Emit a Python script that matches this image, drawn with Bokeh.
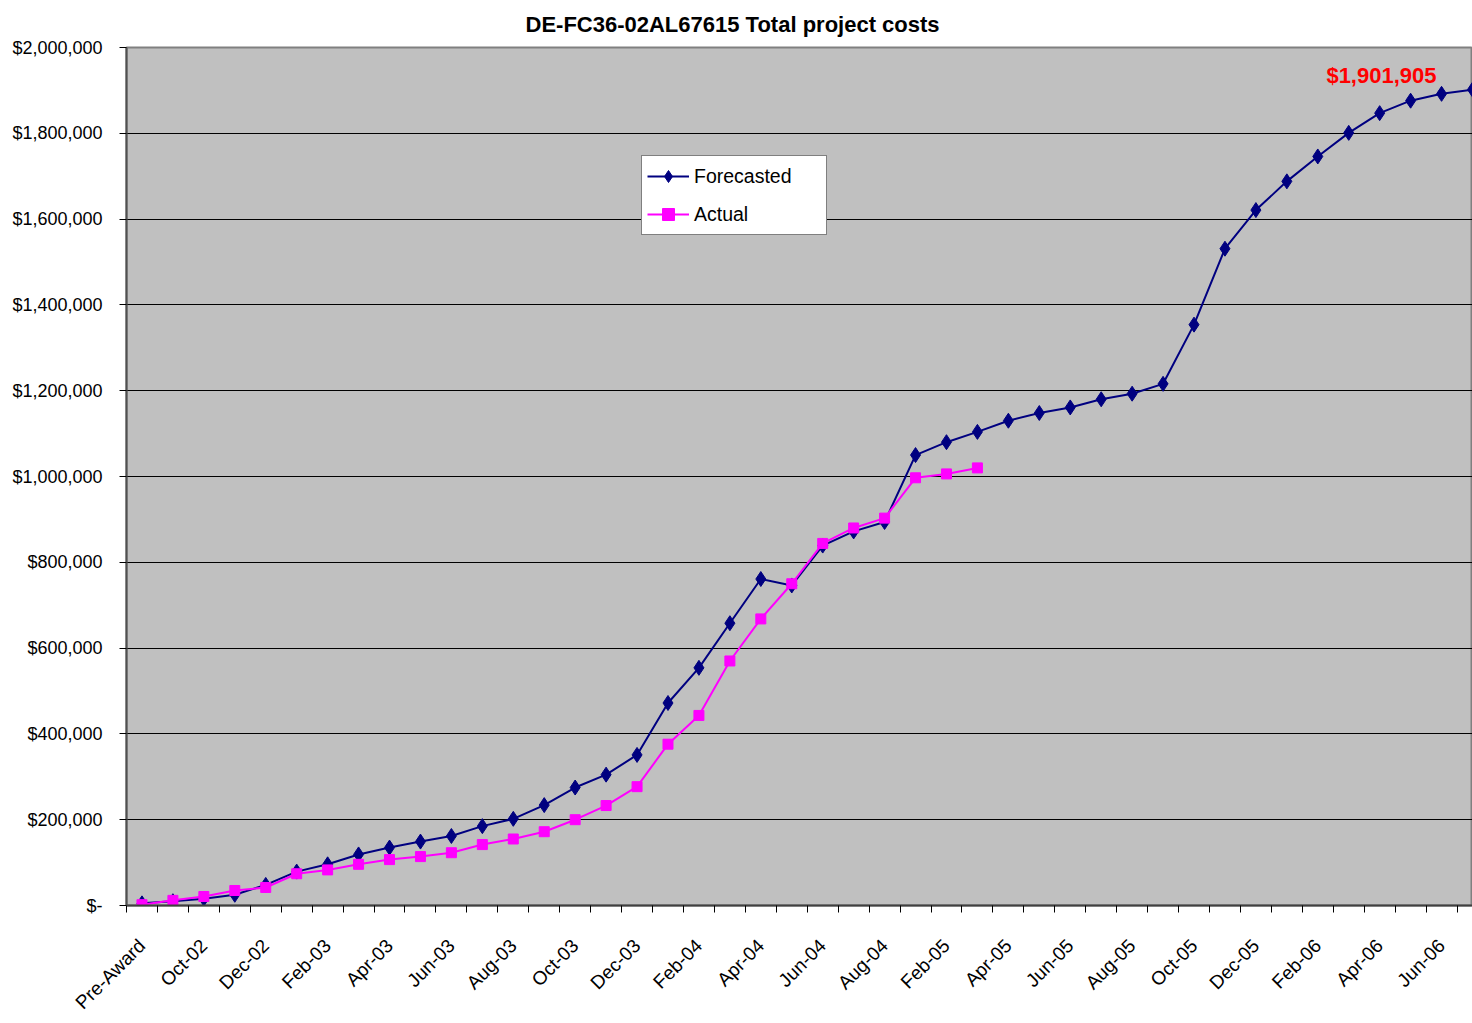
import math
from bokeh.plotting import figure
from bokeh.models import FixedTicker, Range1d, Legend, LegendItem, Label
from bokeh.embed import file_html
from bokeh.resources import INLINE

# ---------------- data ----------------
categories = ["Pre-Award", "Sep-02", "Oct-02", "Nov-02", "Dec-02", "Jan-03", "Feb-03",
              "Mar-03", "Apr-03", "May-03", "Jun-03", "Jul-03", "Aug-03", "Sep-03",
              "Oct-03", "Nov-03", "Dec-03", "Jan-04", "Feb-04", "Mar-04", "Apr-04",
              "May-04", "Jun-04", "Jul-04", "Aug-04", "Jan-05", "Feb-05", "Mar-05",
              "Apr-05", "May-05", "Jun-05", "Jul-05", "Aug-05", "Sep-05", "Oct-05",
              "Nov-05", "Dec-05", "Jan-06", "Feb-06", "Mar-06", "Apr-06", "May-06",
              "Jun-06", "Jul-06"]

forecasted = [5000, 10000, 16000, 25000, 48000, 79000, 96000, 119000, 135000, 149000,
              162000, 185000, 202000, 234000, 275000, 305000, 351000, 472000, 554000,
              658000, 761000, 746000, 839000, 872000, 894000, 1050000, 1080000, 1104000,
              1130000, 1148000, 1161000, 1180000, 1193000, 1216000, 1354000, 1531000,
              1621000, 1688000, 1746000, 1801000, 1847000, 1876000, 1892000, 1901905]

actual = [2000, 12000, 21000, 35000, 42000, 74000, 83000, 96000, 107000, 114000,
          123000, 142000, 155000, 172000, 200000, 233000, 277000, 376000, 443000,
          570000, 668000, 750000, 844000, 880000, 903000, 997000, 1006000, 1020000]

y_ticks = [0, 200000, 400000, 600000, 800000, 1000000, 1200000, 1400000, 1600000,
           1800000, 2000000]
y_tick_labels = ["$-", "$200,000", "$400,000", "$600,000", "$800,000", "$1,000,000",
                 "$1,200,000", "$1,400,000", "$1,600,000", "$1,800,000", "$2,000,000"]

series_names = ["Forecasted", "Actual"]
final_label = "$1,901,905"
title_text = "DE-FC36-02AL67615 Total project costs"

# ---------------- style ----------------
FONT = "'Liberation Sans', Arial, sans-serif"
NAVY = "#000080"
MAGENTA = "#FF00FF"

x_all = list(range(len(categories)))
x_act = x_all[:len(actual)]

p = figure(width=1472, height=1023, output_backend="svg", toolbar_location=None,
           x_range=Range1d(-0.5, len(categories) - 1),
           y_range=Range1d(y_ticks[0], y_ticks[-1]),
           min_border_left=126, min_border_right=0, min_border_top=47,
           min_border_bottom=118)

p.background_fill_color = "#C0C0C0"
p.border_fill_color = "white"
p.outline_line_color = "#808080"
p.outline_line_width = 2

# title
p.title.text = title_text
p.title.align = "left"
p.title.offset = 399
p.title.standoff = 18
p.title.vertical_align = "top"
p.title.text_font = FONT
p.title.text_font_size = "22px"
p.title.text_font_style = "bold"
p.title.text_color = "black"

# lines and markers
r_f = p.line(x_all, forecasted, line_color=NAVY, line_width=2)
m_f = p.scatter(x_all, forecasted, marker="diamond", size=15, fill_color=NAVY,
                line_color=NAVY)
r_a = p.line(x_act, actual, line_color=MAGENTA, line_width=2)
m_a = p.scatter(x_act, actual, marker="square", size=10, fill_color=MAGENTA,
                line_color=MAGENTA)

# x axis
xa = p.xaxis[0]
xa.ticker = FixedTicker(ticks=x_all[::2],
                        minor_ticks=[i - 0.5 for i in range(len(categories) + 1)])
xa.major_label_overrides = {i: categories[i] for i in x_all[::2]}
xa.major_label_orientation = math.pi / 4
xa.major_tick_out = 0
xa.major_tick_in = 0
xa.minor_tick_out = 7
xa.minor_tick_in = 0
xa.minor_tick_line_color = "black"
xa.axis_line_color = "#404040"
xa.axis_line_width = 2
xa.major_label_standoff = 30
xa.major_label_text_font = FONT
xa.major_label_text_font_size = "19px"
xa.major_label_text_color = "black"

# y axis
ya = p.yaxis[0]
ya.ticker = FixedTicker(ticks=y_ticks)
ya.major_label_overrides = dict(zip(y_ticks, y_tick_labels))
ya.major_tick_out = 7
ya.major_tick_in = 0
ya.minor_tick_line_color = None
ya.major_tick_line_color = "black"
ya.axis_line_color = "#505050"
ya.axis_line_width = 2
ya.major_label_standoff = 17
ya.major_label_text_font = FONT
ya.major_label_text_font_size = "18px"
ya.major_label_text_color = "black"

p.xgrid.visible = False
p.ygrid.ticker = FixedTicker(ticks=y_ticks)
p.ygrid.grid_line_color = "black"
p.ygrid.grid_line_width = 1

# legend
legend = Legend(items=[LegendItem(label=series_names[0], renderers=[r_f, m_f]),
                       LegendItem(label=series_names[1], renderers=[r_a, m_a])],
                location=(515, 670), orientation="vertical",
                padding=5, spacing=8, margin=0,
                glyph_width=42, glyph_height=30, label_height=30, label_width=127,
                label_standoff=5,
                border_line_color="black", border_line_width=1,
                background_fill_color="white", background_fill_alpha=1.0,
                label_text_font=FONT, label_text_font_size="19.5px",
                label_text_color="black")
p.add_layout(legend)

# final value label
p.add_layout(Label(x=x_all[-1], y=forecasted[-1], text=final_label,
                   text_color="red", text_font=FONT, text_font_style="bold",
                   text_font_size="22px", text_align="right", text_baseline="bottom",
                   x_offset=-36, y_offset=2))

open("out.html", "w").write(file_html(p, INLINE))
